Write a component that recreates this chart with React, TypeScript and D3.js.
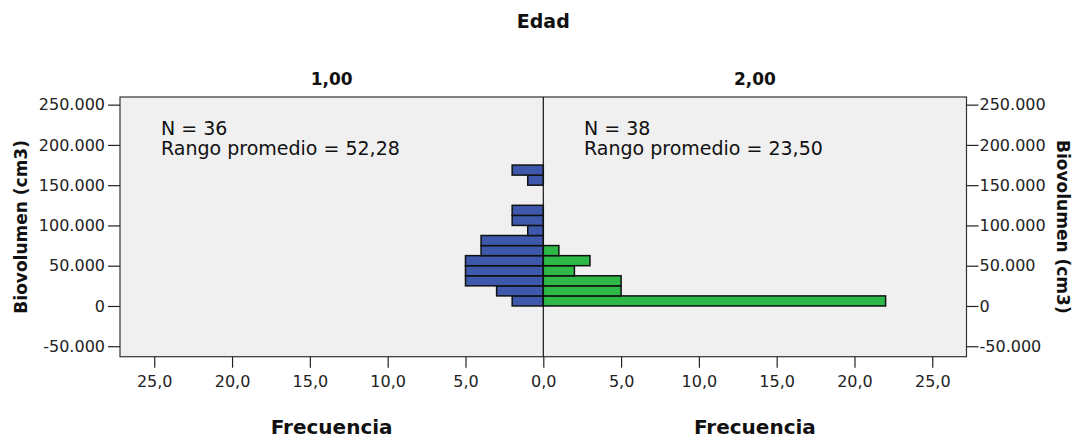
import React, { useRef, useEffect } from "react";
import * as d3 from "d3";

// bin lower edges (cm3), bin width 12.500
const binStarts = [0, 12500, 25000, 37500, 50000, 62500, 75000, 87500, 100000, 112500, 125000, 137500, 150000, 162500];
const binWidth = 12500;
const groups = ["1,00", "2,00"];
const countsGroup1 = [2, 3, 5, 5, 5, 4, 4, 1, 2, 2, 0, 0, 1, 2];
const countsGroup2 = [22, 5, 5, 2, 3, 1, 0, 0, 0, 0, 0, 0, 0, 0];
const nLabels = ["N = 36", "N = 38"];
const rankLabels = ["Rango promedio = 52,28", "Rango promedio = 23,50"];
const yTicks = [-50000, 0, 50000, 100000, 150000, 200000, 250000];
const xTicks = [0, 5, 10, 15, 20, 25];

const App = () => {
  const chartRef = useRef<SVGSVGElement>(null);

  useEffect(() => {
    const width = 1074;
    const height = 441;
    const left = 120;
    const right = 966.5;
    const top = 97;
    const bottom = 356.7;
    const mid = 543.3;
    const font = "'DejaVu Sans', sans-serif";

    const svg = d3.select(chartRef.current).attr("width", width).attr("height", height);
    svg.selectAll("*").remove();

    const loc = d3.formatLocale({ decimal: ",", thousands: ".", grouping: [3], currency: ["", ""], minus: "-" });
    const fmtY = loc.format(",");
    const fmtX = loc.format(".1f");

    // scales
    const yScale = d3.scaleLinear().domain([-63000, 259500]).range([bottom, top]);
    const xLeft = d3.scaleLinear().domain([0, 27.2]).range([mid, left]);
    const xRight = d3.scaleLinear().domain([0, 27.2]).range([mid, right]);

    // plot background
    svg
      .append("rect")
      .attr("x", left)
      .attr("y", top)
      .attr("width", right - left)
      .attr("height", bottom - top)
      .attr("fill", "#f0f0f0");

    const bins = binStarts.map((b, i) => ({ start: b, c1: countsGroup1[i], c2: countsGroup2[i] }));

    // left bars (group 1)
    svg
      .selectAll(".bar1")
      .data(bins.filter((d) => d.c1 > 0))
      .enter()
      .append("rect")
      .attr("class", "bar1")
      .attr("x", (d) => xLeft(d.c1))
      .attr("y", (d) => yScale(d.start + binWidth))
      .attr("width", (d) => mid - xLeft(d.c1))
      .attr("height", (d) => yScale(d.start) - yScale(d.start + binWidth))
      .attr("fill", "#3e58ac")
      .attr("stroke", "#111")
      .attr("stroke-width", 1.5);

    // right bars (group 2)
    svg
      .selectAll(".bar2")
      .data(bins.filter((d) => d.c2 > 0))
      .enter()
      .append("rect")
      .attr("class", "bar2")
      .attr("x", mid)
      .attr("y", (d) => yScale(d.start + binWidth))
      .attr("width", (d) => xRight(d.c2) - mid)
      .attr("height", (d) => yScale(d.start) - yScale(d.start + binWidth))
      .attr("fill", "#2eb848")
      .attr("stroke", "#111")
      .attr("stroke-width", 1.5);

    // frame and center line
    svg
      .append("rect")
      .attr("x", left)
      .attr("y", top)
      .attr("width", right - left)
      .attr("height", bottom - top)
      .attr("fill", "none")
      .attr("stroke", "#333")
      .attr("stroke-width", 1.2);
    svg.append("line").attr("x1", mid).attr("x2", mid).attr("y1", top).attr("y2", bottom).attr("stroke", "#111").attr("stroke-width", 1.2);

    // y axes
    const yAxisL = d3.axisLeft(yScale).tickValues(yTicks).tickFormat((d) => fmtY(+d)).tickSize(12).tickPadding(3);
    const yAxisR = d3.axisRight(yScale).tickValues(yTicks).tickFormat((d) => fmtY(+d)).tickSize(12).tickPadding(1);
    svg.append("g").attr("transform", `translate(${left},0)`).call(yAxisL);
    svg.append("g").attr("transform", `translate(${right},0)`).call(yAxisR);

    // x axes
    const xAxisL = d3.axisBottom(xLeft).tickValues(xTicks).tickFormat((d) => fmtX(+d)).tickSize(11).tickPadding(8);
    const xAxisR = d3.axisBottom(xRight).tickValues(xTicks.slice(1)).tickFormat((d) => fmtX(+d)).tickSize(11).tickPadding(8);
    svg.append("g").attr("transform", `translate(0,${bottom})`).call(xAxisL);
    svg.append("g").attr("transform", `translate(0,${bottom})`).call(xAxisR);

    svg.selectAll(".domain").remove();
    svg.selectAll(".tick line").attr("stroke", "#222").attr("stroke-width", 1.2);
    svg
      .selectAll(".tick text")
      .attr("fill", "#222")
      .style("font-family", font)
      .style("font-size", "16px");

    // titles
    const bold = (x: number, y: number, t: string, size: number) =>
      svg
        .append("text")
        .attr("x", x)
        .attr("y", y)
        .attr("text-anchor", "middle")
        .style("font-family", font)
        .style("font-weight", "bold")
        .style("font-size", size + "px")
        .attr("fill", "#111")
        .text(t);

    bold(mid, 28, "Edad", 19);
    bold((left + mid) / 2, 85, groups[0], 17);
    bold((mid + right) / 2, 85, groups[1], 17);
    bold((left + mid) / 2, 434, "Frecuencia", 20);
    bold((mid + right) / 2, 434, "Frecuencia", 20);

    bold(0, 0, "Biovolumen (cm3)", 17).attr("transform", `translate(27,${(top + bottom) / 2}) rotate(-90)`);
    bold(0, 0, "Biovolumen (cm3)", 17).attr("transform", `translate(1057,${(top + bottom) / 2}) rotate(90)`);

    // annotations
    const annX = [161, 584];
    annX.forEach((x, i) => {
      svg.append("text").attr("x", x).attr("y", 135).style("font-family", font).style("font-size", "19px").attr("fill", "#111").text(nLabels[i]);
      svg.append("text").attr("x", x).attr("y", 155).style("font-family", font).style("font-size", "19px").attr("fill", "#111").text(rankLabels[i]);
    });
  }, []);

  return <svg ref={chartRef} style={{ position: "absolute", left: 0, top: 0, background: "#fff" }}></svg>;
};

export default App;
